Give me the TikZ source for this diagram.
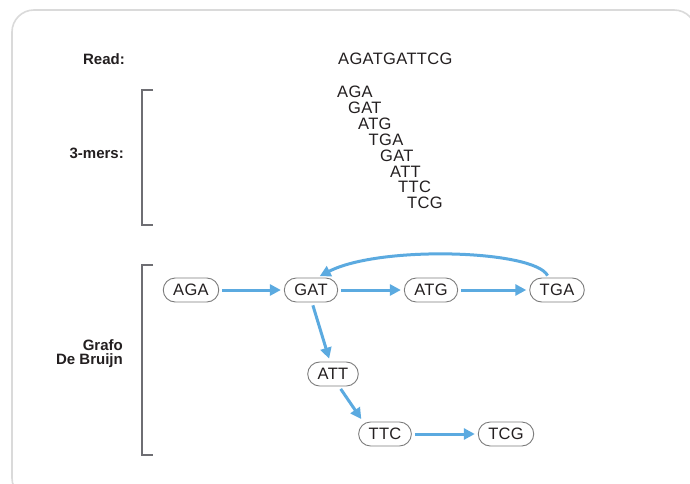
\documentclass[tikz,border=0pt]{standalone}
\usepackage{fontspec}
\setmainfont{Liberation Sans}
\newfontfamily\seqfont[LetterSpace=2]{Liberation Sans}
\usetikzlibrary{arrows.meta}
\definecolor{txt}{RGB}{35,31,32}
\definecolor{edgeblue}{RGB}{91,170,224}
\definecolor{brk}{RGB}{110,110,115}
\definecolor{nodegray}{RGB}{125,125,125}
\definecolor{framegray}{RGB}{218,218,218}
\tikzset{
  lbl/.style={font=\fontsize{15}{15}\selectfont\bfseries, text=txt, anchor=base east, inner sep=0pt},
  seq/.style={font=\seqfont\fontsize{16.5}{16.5}\selectfont, text=txt, anchor=base west, inner sep=0pt},
  kmer/.style={draw=nodegray, line width=0.9pt, rounded corners=12pt, minimum height=24pt, inner xsep=10pt, inner ysep=0pt, font=\seqfont\fontsize{16.5}{16.5}\selectfont, text=txt, fill=white},
  edge/.style={draw=edgeblue, line width=3pt, -{Triangle[length=11pt,width=11pt]}, shorten >=3pt, shorten <=3pt},
  bracket/.style={draw=brk, line width=2pt},
}
\begin{document}
\begin{tikzpicture}[x=1pt,y=-1pt]
\clip (0,0) rectangle (690,484);
\fill[white] (0,0) rectangle (690,484);
\draw[framegray, line width=1.6pt, rounded corners=22pt] (12,10) rectangle (696,500);
% labels
\node[lbl] (lread) at (125,65) {Read:};
\node[lbl] (lmers) at (124,158) {3-mers:};
\node[lbl, align=right, anchor=east] (lgraph) at (123,354) {Grafo\\[-1pt]De Bruijn};
% read
\node[seq] (read) at (338,65) {AGATGATTCG};
% 3-mers
\node[seq] (m1) at (337,98) {AGA};
\node[seq] (m2) at (348,113.8) {GAT};
\node[seq] (m3) at (358,129.6) {ATG};
\node[seq] (m4) at (368.5,145.4) {TGA};
\node[seq] (m5) at (380,161.2) {GAT};
\node[seq] (m6) at (390,177) {ATT};
\node[seq] (m7) at (398,192.8) {TTC};
\node[seq] (m8) at (407,208.6) {TCG};
% brackets
\draw[bracket] (153,90) -- (142,90) -- (142,225) -- (153,225);
\draw[bracket] (153,265) -- (142,265) -- (142,455) -- (153,455);
% graph nodes
\node[kmer] (AGA) at (191,290) {AGA};
\node[kmer] (GAT) at (311,290) {GAT};
\node[kmer] (ATG) at (431,290) {ATG};
\node[kmer] (TGA) at (557,290) {TGA};
\node[kmer] (ATT) at (333,374) {ATT};
\node[kmer] (TTC) at (385,434) {TTC};
\node[kmer] (TCG) at (506,434) {TCG};
% edges
\draw[edge] (AGA) -- (GAT);
\draw[edge] (GAT) -- (ATG);
\draw[edge] (ATG) -- (TGA);
\draw[edge] ([xshift=1pt]GAT.south) -- ([xshift=-3pt]ATT.north);
\draw[edge] ([xshift=6pt]ATT.south) -- ([xshift=-22pt]TTC.north);
\draw[edge] (TTC) -- (TCG);
\draw[edge, shorten <=1pt] ([xshift=-9pt,yshift=1pt]TGA.north) .. controls (535,250) and (380,245) .. ([xshift=6pt]GAT.north);
\end{tikzpicture}
\end{document}
